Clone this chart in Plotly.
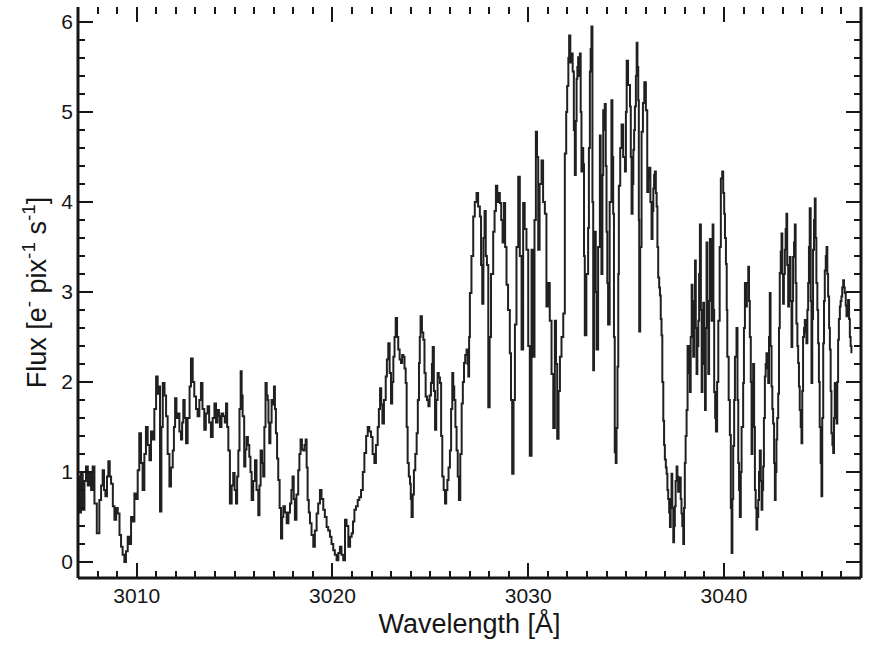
import plotly.graph_objects as go

# Spectrum samples: wavelength in Angstrom, flux in e- pix^-1 s^-1
wavelength = [
    3007.00, 3007.08, 3007.15, 3007.24, 3007.33, 3007.41, 3007.50, 3007.58, 3007.67, 3007.75,
    3007.84, 3007.96, 3008.09, 3008.18, 3008.26, 3008.33, 3008.40, 3008.48, 3008.55, 3008.62,
    3008.69, 3008.78, 3008.86, 3008.95, 3009.03, 3009.12, 3009.20, 3009.28, 3009.37, 3009.45,
    3009.54, 3009.62, 3009.71, 3009.80, 3009.88, 3009.97, 3010.05, 3010.13, 3010.22, 3010.30,
    3010.39, 3010.47, 3010.56, 3010.65, 3010.73, 3010.82, 3010.90, 3010.99, 3011.07, 3011.13,
    3011.19, 3011.26, 3011.33, 3011.42, 3011.50, 3011.58, 3011.67, 3011.75, 3011.84, 3011.90,
    3011.96, 3012.03, 3012.09, 3012.18, 3012.26, 3012.32, 3012.38, 3012.45, 3012.52, 3012.60,
    3012.70, 3012.77, 3012.86, 3012.94, 3013.03, 3013.11, 3013.20, 3013.28, 3013.36, 3013.45,
    3013.53, 3013.62, 3013.70, 3013.79, 3013.88, 3013.97, 3014.05, 3014.13, 3014.20, 3014.25,
    3014.33, 3014.42, 3014.50, 3014.56, 3014.62, 3014.68, 3014.76, 3014.85, 3014.93, 3015.00,
    3015.07, 3015.13, 3015.19, 3015.25, 3015.31, 3015.36, 3015.41, 3015.49, 3015.55, 3015.61,
    3015.68, 3015.75, 3015.81, 3015.87, 3015.95, 3016.04, 3016.12, 3016.21, 3016.27, 3016.33,
    3016.40, 3016.46, 3016.52, 3016.58, 3016.64, 3016.69, 3016.73, 3016.77, 3016.83, 3016.89,
    3016.95, 3017.01, 3017.06, 3017.11, 3017.17, 3017.23, 3017.30, 3017.37, 3017.43, 3017.49,
    3017.57, 3017.66, 3017.75, 3017.83, 3017.90, 3017.96, 3018.02, 3018.08, 3018.16, 3018.25,
    3018.31, 3018.37, 3018.44, 3018.51, 3018.57, 3018.63, 3018.68, 3018.73, 3018.79, 3018.85,
    3018.93, 3019.02, 3019.10, 3019.19, 3019.27, 3019.36, 3019.44, 3019.53, 3019.61, 3019.70,
    3019.78, 3019.87, 3019.95, 3020.04, 3020.12, 3020.21, 3020.30, 3020.38, 3020.46, 3020.55,
    3020.64, 3020.72, 3020.81, 3020.90, 3020.98, 3021.05, 3021.12, 3021.20, 3021.29, 3021.37,
    3021.46, 3021.55, 3021.63, 3021.72, 3021.80, 3021.88, 3021.97, 3022.05, 3022.14, 3022.22,
    3022.31, 3022.37, 3022.43, 3022.49, 3022.55, 3022.63, 3022.72, 3022.78, 3022.85, 3022.92,
    3022.99, 3023.05, 3023.11, 3023.17, 3023.23, 3023.30, 3023.36, 3023.43, 3023.50, 3023.56,
    3023.62, 3023.68, 3023.74, 3023.79, 3023.84, 3023.90, 3023.96, 3024.00, 3024.04, 3024.10,
    3024.16, 3024.23, 3024.30, 3024.36, 3024.42, 3024.46, 3024.50, 3024.57, 3024.64, 3024.70,
    3024.76, 3024.83, 3024.90, 3024.96, 3025.03, 3025.08, 3025.12, 3025.18, 3025.24, 3025.30,
    3025.37, 3025.43, 3025.49, 3025.55, 3025.61, 3025.68, 3025.75, 3025.81, 3025.87, 3025.93,
    3026.00, 3026.06, 3026.12, 3026.17, 3026.22, 3026.28, 3026.34, 3026.40, 3026.46, 3026.53,
    3026.60, 3026.66, 3026.72, 3026.78, 3026.85, 3026.90, 3026.94, 3026.98, 3027.02, 3027.10,
    3027.19, 3027.27, 3027.36, 3027.44, 3027.53, 3027.59, 3027.65, 3027.71, 3027.77, 3027.83,
    3027.89, 3027.96, 3028.03, 3028.10, 3028.21, 3028.28, 3028.35, 3028.42, 3028.48, 3028.55,
    3028.62, 3028.69, 3028.76, 3028.82, 3028.89, 3028.97, 3029.06, 3029.12, 3029.18, 3029.25,
    3029.32, 3029.40, 3029.49, 3029.57, 3029.66, 3029.74, 3029.82, 3029.91, 3030.00, 3030.08,
    3030.17, 3030.25, 3030.32, 3030.39, 3030.45, 3030.51, 3030.58, 3030.68, 3030.76, 3030.85,
    3030.93, 3031.02, 3031.10, 3031.19, 3031.28, 3031.36, 3031.42, 3031.48, 3031.55, 3031.62,
    3031.70, 3031.79, 3031.87, 3031.94, 3031.99, 3032.05, 3032.09, 3032.15, 3032.21, 3032.27,
    3032.33, 3032.38, 3032.43, 3032.47, 3032.51, 3032.55, 3032.60, 3032.64, 3032.68, 3032.72,
    3032.77, 3032.81, 3032.85, 3032.89, 3032.97, 3033.06, 3033.10, 3033.15, 3033.19, 3033.23,
    3033.28, 3033.32, 3033.36, 3033.40, 3033.45, 3033.49, 3033.57, 3033.66, 3033.70, 3033.74,
    3033.79, 3033.83, 3033.87, 3033.91, 3033.96, 3034.00, 3034.04, 3034.08, 3034.16, 3034.25,
    3034.30, 3034.34, 3034.38, 3034.42, 3034.47, 3034.51, 3034.56, 3034.60, 3034.63, 3034.70,
    3034.77, 3034.85, 3034.94, 3034.99, 3035.03, 3035.10, 3035.20, 3035.24, 3035.28, 3035.33,
    3035.37, 3035.41, 3035.45, 3035.50, 3035.54, 3035.58, 3035.62, 3035.65, 3035.67, 3035.72,
    3035.79, 3035.86, 3035.93, 3036.01, 3036.08, 3036.13, 3036.18, 3036.24, 3036.30, 3036.35,
    3036.39, 3036.43, 3036.47, 3036.52, 3036.56, 3036.60, 3036.64, 3036.69, 3036.73, 3036.77,
    3036.81, 3036.85, 3036.90, 3036.94, 3036.98, 3037.03, 3037.07, 3037.11, 3037.15, 3037.20,
    3037.24, 3037.28, 3037.32, 3037.36, 3037.41, 3037.45, 3037.49, 3037.53, 3037.58, 3037.62,
    3037.66, 3037.70, 3037.75, 3037.79, 3037.83, 3037.87, 3037.92, 3037.96, 3038.00, 3038.04,
    3038.09, 3038.14, 3038.20, 3038.26, 3038.30, 3038.35, 3038.39, 3038.43, 3038.48, 3038.52,
    3038.56, 3038.60, 3038.64, 3038.69, 3038.73, 3038.77, 3038.82, 3038.86, 3038.90, 3038.94,
    3038.98, 3039.03, 3039.07, 3039.11, 3039.15, 3039.20, 3039.24, 3039.28, 3039.33, 3039.37,
    3039.42, 3039.46, 3039.50, 3039.55, 3039.59, 3039.65, 3039.71, 3039.78, 3039.84, 3039.91,
    3039.96, 3040.01, 3040.05, 3040.10, 3040.14, 3040.17, 3040.24, 3040.30, 3040.35, 3040.39,
    3040.43, 3040.47, 3040.52, 3040.56, 3040.64, 3040.69, 3040.73, 3040.77, 3040.81, 3040.86,
    3040.90, 3040.98, 3041.02, 3041.07, 3041.12, 3041.17, 3041.24, 3041.28, 3041.32, 3041.37,
    3041.41, 3041.45, 3041.49, 3041.54, 3041.58, 3041.62, 3041.66, 3041.70, 3041.75, 3041.79,
    3041.83, 3041.88, 3041.92, 3041.96, 3042.00, 3042.04, 3042.09, 3042.13, 3042.17, 3042.21,
    3042.26, 3042.30, 3042.34, 3042.38, 3042.43, 3042.47, 3042.51, 3042.56, 3042.60, 3042.64,
    3042.68, 3042.72, 3042.77, 3042.81, 3042.85, 3042.90, 3042.94, 3042.98, 3043.02, 3043.06,
    3043.11, 3043.15, 3043.19, 3043.23, 3043.28, 3043.32, 3043.36, 3043.40, 3043.45, 3043.49,
    3043.53, 3043.58, 3043.62, 3043.66, 3043.70, 3043.75, 3043.79, 3043.83, 3043.87, 3043.92,
    3043.96, 3044.00, 3044.04, 3044.09, 3044.13, 3044.17, 3044.21, 3044.26, 3044.30, 3044.34,
    3044.38, 3044.43, 3044.47, 3044.51, 3044.55, 3044.60, 3044.64, 3044.68, 3044.72, 3044.77,
    3044.81, 3044.85, 3044.89, 3044.94, 3044.98, 3045.02, 3045.07, 3045.11, 3045.15, 3045.20,
    3045.24, 3045.28, 3045.32, 3045.37, 3045.41, 3045.45, 3045.49, 3045.54, 3045.58, 3045.62,
    3045.66, 3045.70, 3045.75, 3045.79, 3045.83, 3045.87, 3045.92, 3045.96, 3046.00, 3046.04,
    3046.09, 3046.13, 3046.17, 3046.22, 3046.26, 3046.30, 3046.34, 3046.39, 3046.43, 3046.47,
    3046.51,
]

flux = [
    0.95, 0.55, 1.00, 0.58, 0.90, 1.06, 0.85, 0.99, 0.80, 1.06,
    0.65, 0.32, 0.69, 0.85, 1.02, 0.80, 0.73, 0.95, 1.12, 0.95,
    0.87, 0.62, 0.47, 0.60, 0.54, 0.30, 0.17, 0.08, 0.00, 0.12,
    0.28, 0.20, 0.50, 0.45, 0.76, 0.70, 1.02, 1.43, 1.10, 0.80,
    1.20, 1.50, 1.30, 1.13, 1.45, 1.36, 1.70, 2.06, 1.87, 1.95,
    0.56, 1.50, 1.99, 1.85, 1.62, 1.20, 0.84, 1.05, 1.24, 1.50,
    1.82, 1.60, 1.65, 1.45, 1.36, 1.55, 1.80, 1.60, 1.32, 1.60,
    1.95, 2.26, 2.00, 1.84, 1.70, 1.62, 1.80, 1.99, 1.70, 1.47,
    1.65, 1.73, 1.55, 1.39, 1.60, 1.76, 1.55, 1.69, 1.62, 1.50,
    1.65, 1.62, 1.55, 1.76, 1.50, 1.24, 0.65, 0.85, 0.99, 0.80,
    0.65, 0.95, 1.24, 1.70, 2.12, 1.85, 1.62, 1.06, 1.25, 1.39,
    1.30, 1.17, 1.00, 0.69, 0.90, 1.13, 0.80, 0.52, 0.85, 1.24,
    1.10, 0.95, 1.50, 1.99, 1.85, 1.80, 1.55, 1.32, 1.55, 1.80,
    1.75, 1.95, 1.70, 1.43, 1.15, 0.91, 0.60, 0.26, 0.50, 0.62,
    0.55, 0.43, 0.55, 0.65, 0.80, 0.95, 0.70, 0.47, 0.75, 1.02,
    1.20, 1.36, 1.25, 1.24, 1.30, 1.36, 1.05, 0.69, 0.55, 0.43,
    0.30, 0.17, 0.35, 0.54, 0.65, 0.80, 0.70, 0.58, 0.50, 0.39,
    0.35, 0.28, 0.20, 0.13, 0.08, 0.02, 0.10, 0.17, 0.08, 0.02,
    0.47, 0.40, 0.17, 0.28, 0.32, 0.45, 0.58, 0.62, 0.69, 0.72,
    0.80, 1.00, 1.21, 1.40, 1.50, 1.45, 1.39, 1.20, 1.10, 1.30,
    1.50, 1.70, 1.93, 1.75, 1.54, 1.80, 2.06, 2.25, 2.43, 2.10,
    1.76, 2.00, 2.28, 2.50, 2.71, 2.50, 2.36, 2.25, 2.21, 2.30,
    2.28, 2.15, 1.99, 1.50, 1.10, 0.95, 0.87, 0.70, 0.50, 0.75,
    1.02, 1.20, 1.43, 1.80, 2.21, 2.50, 2.73, 2.55, 2.47, 2.10,
    1.84, 1.80, 1.73, 1.85, 1.99, 2.20, 2.39, 1.90, 1.47, 1.80,
    2.10, 2.05, 1.99, 1.40, 0.95, 0.80, 0.65, 0.80, 0.91, 1.05,
    1.24, 1.70, 2.10, 1.95, 1.80, 1.50, 1.24, 0.95, 0.69, 1.20,
    1.76, 2.00, 2.21, 2.30, 2.36, 2.20, 2.06, 2.50, 2.99, 3.40,
    3.84, 4.00, 4.10, 3.95, 3.84, 3.30, 2.87, 3.60, 3.90, 3.40,
    3.30, 1.72, 2.50, 3.20, 3.67, 3.90, 4.18, 4.00, 4.10, 3.99,
    3.80, 3.55, 3.99, 3.50, 3.08, 2.80, 2.32, 1.80, 0.98, 1.80,
    2.64, 3.50, 4.28, 3.40, 2.36, 3.99, 3.70, 3.47, 2.40, 1.18,
    3.47, 2.28, 3.80, 4.78, 4.50, 3.47, 4.20, 4.46, 4.00, 3.87,
    2.84, 3.10, 2.68, 2.09, 1.49, 2.68, 2.20, 1.37, 1.90, 2.28,
    2.50, 2.76, 4.54, 5.00, 5.29, 5.60, 5.85, 5.55, 5.65, 5.45,
    4.80, 4.30, 4.90, 5.37, 5.50, 5.61, 5.40, 5.65, 5.00, 4.34,
    4.60, 4.42, 3.40, 2.52, 3.20, 3.71, 4.60, 5.45, 5.70, 5.95,
    4.00, 2.13, 3.00, 3.67, 3.00, 2.36, 3.50, 4.74, 4.00, 3.20,
    4.30, 5.02, 4.80, 5.09, 4.40, 3.67, 3.10, 2.64, 4.00, 5.13,
    4.50, 3.87, 2.50, 1.22, 1.10, 1.49, 2.17, 3.20, 4.18, 4.60,
    4.86, 4.50, 4.34, 5.00, 5.57, 5.30, 5.06, 4.50, 3.87, 4.20,
    4.58, 4.80, 5.06, 5.40, 5.77, 5.50, 5.13, 3.80, 2.56, 3.50,
    4.78, 5.10, 5.33, 5.02, 4.11, 4.25, 4.38, 4.00, 3.59, 3.90,
    4.15, 4.30, 4.34, 4.10, 3.95, 3.50, 3.16, 3.05, 2.96, 2.70,
    2.52, 2.00, 1.57, 1.30, 1.14, 1.05, 0.98, 0.80, 0.70, 0.55,
    0.39, 0.70, 0.98, 0.60, 0.22, 0.40, 0.62, 0.90, 1.06, 0.95,
    0.78, 0.85, 0.94, 0.70, 0.54, 0.40, 0.20, 0.60, 1.10, 1.40,
    1.69, 2.40, 2.10, 1.89, 2.50, 3.08, 2.60, 2.28, 2.90, 3.35,
    2.60, 2.09, 2.40, 2.68, 3.20, 3.75, 2.80, 1.89, 2.40, 2.88,
    2.20, 1.69, 2.60, 3.55, 2.80, 2.09, 2.90, 3.59, 3.10, 2.68,
    3.75, 2.80, 1.89, 1.60, 1.45, 2.00, 2.68, 3.50, 4.26, 4.34,
    4.10, 3.87, 3.60, 3.31, 2.80, 2.28, 1.80, 1.41, 0.60, 0.10,
    0.70, 1.29, 1.80, 2.28, 2.60, 1.80, 1.10, 0.80, 0.50, 1.00,
    1.50, 1.99, 2.60, 3.10, 2.84, 3.10, 3.28, 2.90, 2.50, 2.00,
    1.20, 1.84, 2.20, 1.50, 0.80, 0.60, 0.36, 0.50, 0.69, 1.00,
    1.24, 0.90, 0.58, 0.80, 1.06, 1.60, 2.06, 2.20, 2.32, 2.15,
    1.99, 2.50, 2.99, 2.40, 1.95, 1.70, 1.54, 1.10, 0.69, 1.00,
    1.36, 1.60, 1.87, 2.60, 3.21, 3.45, 3.65, 3.20, 2.87, 3.20,
    3.47, 3.70, 3.87, 3.30, 2.84, 3.10, 3.39, 2.90, 2.39, 2.90,
    3.39, 3.55, 3.75, 3.10, 2.65, 2.40, 2.21, 1.95, 1.69, 1.50,
    1.32, 1.90, 2.50, 2.60, 2.69, 2.55, 2.43, 2.80, 3.10, 3.50,
    3.93, 2.90, 1.99, 2.70, 3.47, 3.80, 4.04, 3.60, 3.10, 2.80,
    2.43, 2.00, 1.50, 1.10, 0.73, 1.60, 2.43, 2.90, 3.24, 3.40,
    3.50, 3.20, 2.95, 2.60, 2.36, 1.90, 1.43, 1.30, 1.21, 1.60,
    1.99, 1.80, 1.54, 2.00, 2.47, 2.70, 2.84, 2.90, 2.95, 3.05,
    3.13, 3.05, 2.99, 2.85, 2.73, 2.80, 2.91, 2.70, 2.50, 2.40,
    2.32,
]

x_range = [3007.0, 3047.0]
y_range = [-0.178, 6.167]
x_tick_values = [3010, 3020, 3030, 3040]
y_tick_values = [0, 1, 2, 3, 4, 5, 6]

ink = "#161616"
font_family = "Liberation Sans, Arial, Helvetica, sans-serif"

fig = go.Figure()
fig.add_trace(go.Scatter(
    x=wavelength,
    y=flux,
    mode="lines",
    line=dict(color="#202020", width=2, shape="hv"),
    showlegend=False,
    hoverinfo="skip",
))

axis_common = dict(
    showline=False,
    showgrid=False,
    zeroline=False,
    ticks="inside",
    mirror="ticks",
    tickwidth=2,
    tickcolor=ink,
    ticklen=15,
    tickfont=dict(family=font_family, size=21, color=ink),
)

fig.update_xaxes(
    range=x_range,
    tickmode="array",
    tickvals=x_tick_values,
    ticklabelstandoff=3,
    minor=dict(ticks="inside", dtick=1, tick0=3007, ticklen=7, tickwidth=2, tickcolor=ink),
    title=dict(text="Wavelength [Å]", font=dict(family=font_family, size=27, color=ink), standoff=8),
    **axis_common,
)
fig.update_yaxes(
    range=y_range,
    tickmode="array",
    tickvals=y_tick_values,
    ticklabelstandoff=4,
    minor=dict(ticks="inside", dtick=0.2, tick0=0, ticklen=7, tickwidth=2, tickcolor=ink),
    title=dict(text="Flux [e<sup>-</sup> pix<sup>-1</sup> s<sup>-1</sup>]",
               font=dict(family=font_family, size=27, color=ink), standoff=6),
    **axis_common,
)

# Frame on the left, bottom and right sides of the plotting area
frame = dict(color=ink, width=3)
fig.add_shape(type="line", xref="paper", yref="paper", x0=0, x1=0, y0=0, y1=1, line=frame)
fig.add_shape(type="line", xref="paper", yref="paper", x0=0, x1=1, y0=0, y1=0, line=frame)
fig.add_shape(type="line", xref="paper", yref="paper", x0=1, x1=1, y0=0, y1=1, line=frame)

fig.update_layout(
    width=875,
    height=649,
    margin=dict(l=78, r=14, t=7, b=71),
    paper_bgcolor="white",
    plot_bgcolor="white",
    font=dict(family=font_family, color=ink),
)

fig.write_html("out.html")
